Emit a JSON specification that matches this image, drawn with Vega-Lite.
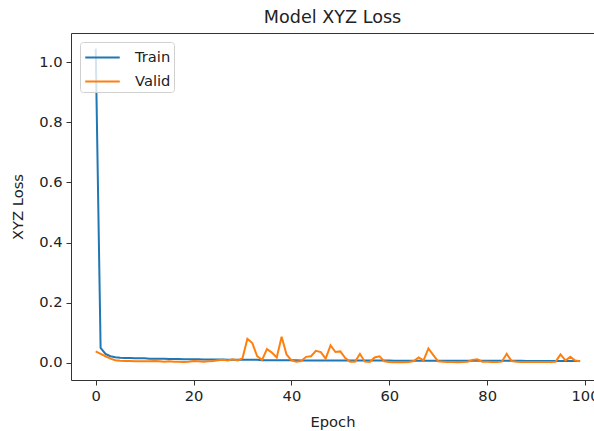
{
  "$schema": "https://vega.github.io/schema/vega-lite/v6.json",
  "autosize": {"type": "none"},
  "padding": {"left": 71, "top": 33, "right": 0, "bottom": 51},
  "width": 523,
  "height": 347,
  "background": "white",
  "title": {"text": "Model XYZ Loss", "fontSize": 17.6, "fontWeight": "normal", "font": "DejaVu Sans", "color": "#222", "offset": 6, "anchor": "middle"},
  "data": {
    "values": [
      {"epoch": 0, "Train": 1.045, "Valid": 0.038},
      {"epoch": 1, "Train": 0.050, "Valid": 0.030},
      {"epoch": 2, "Train": 0.030, "Valid": 0.022},
      {"epoch": 3, "Train": 0.022, "Valid": 0.014},
      {"epoch": 4, "Train": 0.019, "Valid": 0.009},
      {"epoch": 5, "Train": 0.017, "Valid": 0.007},
      {"epoch": 6, "Train": 0.016, "Valid": 0.006},
      {"epoch": 7, "Train": 0.016, "Valid": 0.006},
      {"epoch": 8, "Train": 0.015, "Valid": 0.005},
      {"epoch": 9, "Train": 0.015, "Valid": 0.005},
      {"epoch": 10, "Train": 0.015, "Valid": 0.005},
      {"epoch": 11, "Train": 0.014, "Valid": 0.005},
      {"epoch": 12, "Train": 0.014, "Valid": 0.006},
      {"epoch": 13, "Train": 0.014, "Valid": 0.005},
      {"epoch": 14, "Train": 0.014, "Valid": 0.004},
      {"epoch": 15, "Train": 0.013, "Valid": 0.005},
      {"epoch": 16, "Train": 0.013, "Valid": 0.004},
      {"epoch": 17, "Train": 0.013, "Valid": 0.004},
      {"epoch": 18, "Train": 0.012, "Valid": 0.003},
      {"epoch": 19, "Train": 0.012, "Valid": 0.004},
      {"epoch": 20, "Train": 0.012, "Valid": 0.006},
      {"epoch": 21, "Train": 0.012, "Valid": 0.005},
      {"epoch": 22, "Train": 0.011, "Valid": 0.004},
      {"epoch": 23, "Train": 0.011, "Valid": 0.005},
      {"epoch": 24, "Train": 0.011, "Valid": 0.006},
      {"epoch": 25, "Train": 0.011, "Valid": 0.009},
      {"epoch": 26, "Train": 0.011, "Valid": 0.010},
      {"epoch": 27, "Train": 0.010, "Valid": 0.008},
      {"epoch": 28, "Train": 0.010, "Valid": 0.012},
      {"epoch": 29, "Train": 0.010, "Valid": 0.008},
      {"epoch": 30, "Train": 0.010, "Valid": 0.015},
      {"epoch": 31, "Train": 0.010, "Valid": 0.080},
      {"epoch": 32, "Train": 0.010, "Valid": 0.066},
      {"epoch": 33, "Train": 0.010, "Valid": 0.022},
      {"epoch": 34, "Train": 0.009, "Valid": 0.010},
      {"epoch": 35, "Train": 0.009, "Valid": 0.046},
      {"epoch": 36, "Train": 0.009, "Valid": 0.034},
      {"epoch": 37, "Train": 0.009, "Valid": 0.018},
      {"epoch": 38, "Train": 0.009, "Valid": 0.087},
      {"epoch": 39, "Train": 0.009, "Valid": 0.028},
      {"epoch": 40, "Train": 0.009, "Valid": 0.008},
      {"epoch": 41, "Train": 0.009, "Valid": 0.004},
      {"epoch": 42, "Train": 0.008, "Valid": 0.006},
      {"epoch": 43, "Train": 0.008, "Valid": 0.020},
      {"epoch": 44, "Train": 0.008, "Valid": 0.022},
      {"epoch": 45, "Train": 0.008, "Valid": 0.040},
      {"epoch": 46, "Train": 0.008, "Valid": 0.036},
      {"epoch": 47, "Train": 0.008, "Valid": 0.014},
      {"epoch": 48, "Train": 0.008, "Valid": 0.058},
      {"epoch": 49, "Train": 0.008, "Valid": 0.036},
      {"epoch": 50, "Train": 0.008, "Valid": 0.038},
      {"epoch": 51, "Train": 0.008, "Valid": 0.016},
      {"epoch": 52, "Train": 0.008, "Valid": 0.004},
      {"epoch": 53, "Train": 0.008, "Valid": 0.004},
      {"epoch": 54, "Train": 0.008, "Valid": 0.030},
      {"epoch": 55, "Train": 0.008, "Valid": 0.004},
      {"epoch": 56, "Train": 0.008, "Valid": 0.003},
      {"epoch": 57, "Train": 0.008, "Valid": 0.018},
      {"epoch": 58, "Train": 0.008, "Valid": 0.022},
      {"epoch": 59, "Train": 0.008, "Valid": 0.005},
      {"epoch": 60, "Train": 0.008, "Valid": 0.003},
      {"epoch": 61, "Train": 0.007, "Valid": 0.002},
      {"epoch": 62, "Train": 0.007, "Valid": 0.002},
      {"epoch": 63, "Train": 0.007, "Valid": 0.002},
      {"epoch": 64, "Train": 0.007, "Valid": 0.003},
      {"epoch": 65, "Train": 0.007, "Valid": 0.006},
      {"epoch": 66, "Train": 0.007, "Valid": 0.018},
      {"epoch": 67, "Train": 0.007, "Valid": 0.008},
      {"epoch": 68, "Train": 0.007, "Valid": 0.048},
      {"epoch": 69, "Train": 0.007, "Valid": 0.026},
      {"epoch": 70, "Train": 0.007, "Valid": 0.005},
      {"epoch": 71, "Train": 0.007, "Valid": 0.004},
      {"epoch": 72, "Train": 0.007, "Valid": 0.003},
      {"epoch": 73, "Train": 0.007, "Valid": 0.003},
      {"epoch": 74, "Train": 0.007, "Valid": 0.002},
      {"epoch": 75, "Train": 0.007, "Valid": 0.003},
      {"epoch": 76, "Train": 0.007, "Valid": 0.004},
      {"epoch": 77, "Train": 0.007, "Valid": 0.010},
      {"epoch": 78, "Train": 0.007, "Valid": 0.012},
      {"epoch": 79, "Train": 0.007, "Valid": 0.004},
      {"epoch": 80, "Train": 0.007, "Valid": 0.004},
      {"epoch": 81, "Train": 0.007, "Valid": 0.003},
      {"epoch": 82, "Train": 0.007, "Valid": 0.003},
      {"epoch": 83, "Train": 0.007, "Valid": 0.004},
      {"epoch": 84, "Train": 0.007, "Valid": 0.030},
      {"epoch": 85, "Train": 0.007, "Valid": 0.006},
      {"epoch": 86, "Train": 0.007, "Valid": 0.004},
      {"epoch": 87, "Train": 0.007, "Valid": 0.003},
      {"epoch": 88, "Train": 0.006, "Valid": 0.003},
      {"epoch": 89, "Train": 0.006, "Valid": 0.003},
      {"epoch": 90, "Train": 0.006, "Valid": 0.003},
      {"epoch": 91, "Train": 0.006, "Valid": 0.003},
      {"epoch": 92, "Train": 0.006, "Valid": 0.003},
      {"epoch": 93, "Train": 0.006, "Valid": 0.003},
      {"epoch": 94, "Train": 0.006, "Valid": 0.004},
      {"epoch": 95, "Train": 0.006, "Valid": 0.028},
      {"epoch": 96, "Train": 0.006, "Valid": 0.008},
      {"epoch": 97, "Train": 0.006, "Valid": 0.020},
      {"epoch": 98, "Train": 0.006, "Valid": 0.008},
      {"epoch": 99, "Train": 0.006, "Valid": 0.005}
    ]
  },
  "transform": [{"fold": ["Train", "Valid"], "as": ["series", "loss"]}],
  "mark": {"type": "line", "strokeWidth": 2, "clip": true},
  "encoding": {
    "x": {
      "field": "epoch", "type": "quantitative",
      "scale": {"domain": [-5.05, 101.84], "nice": false, "zero": false},
      "axis": {"title": "Epoch", "values": [0, 20, 40, 60, 80, 100], "titlePadding": 11.5}
    },
    "y": {
      "field": "loss", "type": "quantitative",
      "scale": {"domain": [-0.057, 1.097], "nice": false, "zero": false},
      "axis": {"title": "XYZ Loss", "values": [0, 0.2, 0.4, 0.6, 0.8, 1.0], "format": ".1f", "titlePadding": 13, "labelPadding": 4}
    },
    "color": {
      "field": "series", "type": "nominal",
      "scale": {"domain": ["Train", "Valid"], "range": ["#1f77b4", "#ff7f0e"]},
      "legend": {
        "title": null, "orient": "top-left", "offset": 9,
        "symbolType": "M-1.5,0H1.5", "symbolSize": 529, "symbolStrokeWidth": 2, "symbolOffset": 7,
        "labelFontSize": 14.7, "labelFont": "DejaVu Sans", "labelColor": "#222", "labelOffset": 20,
        "strokeColor": "#d0d0d0", "fillColor": "rgba(255,255,255,0.8)", "cornerRadius": 3,
        "padding": 3, "rowPadding": 4
      }
    }
  },
  "config": {
    "font": "DejaVu Sans",
    "view": {"stroke": "#333", "strokeWidth": 1},
    "axis": {
      "grid": false, "domain": false,
      "tickColor": "#333", "tickSize": 5, "tickWidth": 1,
      "labelFont": "DejaVu Sans", "labelFontSize": 14.7, "labelColor": "#222", "labelPadding": 3,
      "titleFont": "DejaVu Sans", "titleFontSize": 14.7, "titleFontWeight": "normal", "titleColor": "#222"
    }
  }
}
